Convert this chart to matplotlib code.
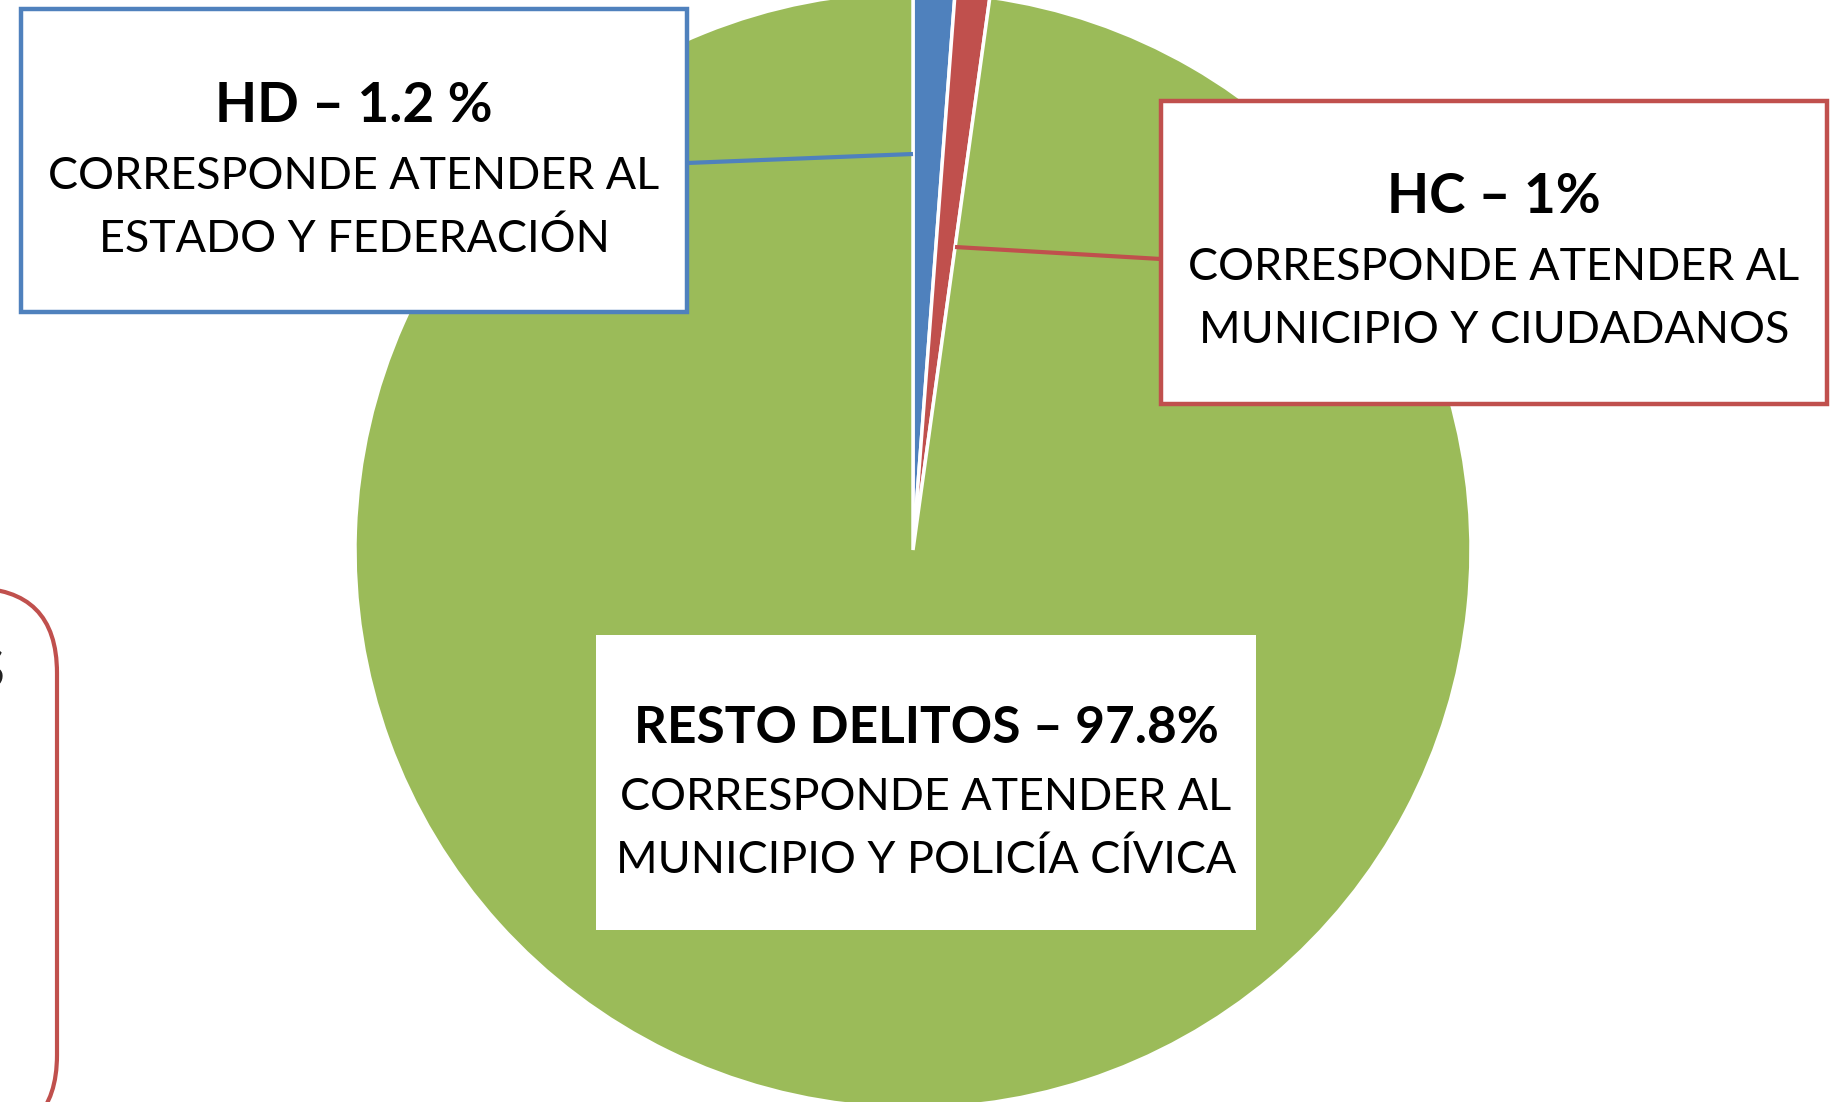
import matplotlib.pyplot as plt
from matplotlib.patches import Rectangle, FancyBboxPatch

plt.rcParams['font.family'] = ['Lato', 'DejaVu Sans']

# data
categories = ['HD', 'HC', 'RESTO DELITOS']
shares = [1.2, 1.0, 97.8]
share_labels = ['1.2 %', '1%', '97.8%']
notes = [['CORRESPONDE ATENDER AL', 'ESTADO Y FEDERACIÓN'],
         ['CORRESPONDE ATENDER AL', 'MUNICIPIO Y CIUDADANOS'],
         ['CORRESPONDE ATENDER AL', 'MUNICIPIO Y POLICÍA CÍVICA']]
colors = ['#4F81BD', '#C0504D', '#9BBB59']

W, H = 1830, 1102


def fy(y):
    # pixel rows counted from the top
    return H - y


fig = plt.figure(figsize=(W / 100, H / 100), dpi=100)
ax = fig.add_axes([0, 0, 1, 1])

ax.pie(shares, colors=colors, startangle=90, counterclock=False,
       center=(913, fy(550)), radius=558,
       wedgeprops=dict(edgecolor='white', linewidth=2.5))

ax.set_xlim(0, W)
ax.set_ylim(0, H)
ax.set_aspect('equal')
ax.axis('off')

# label boxes: (x0, y0, x1, y1) in top-down px, edge colour
boxes = [(21, 9, 687, 312, colors[0]),
         (1161, 101, 1827, 404, colors[1]),
         (596, 635, 1256, 930, None)]
centers_x = [354, 1494, 926]
title_base = [122, 213, 743]
title_size = [39.5, 39.5, 37]

# leader lines from boxes to slices
ax.plot([687, 913], [fy(163), fy(154)], color=colors[0], lw=3, solid_capstyle='butt')
ax.plot([1161, 955], [fy(259), fy(247)], color=colors[1], lw=3, solid_capstyle='butt')

for i, (x0, y0, x1, y1, ec) in enumerate(boxes):
    ax.add_patch(Rectangle((x0, fy(y1)), x1 - x0, y1 - y0, facecolor='white',
                           edgecolor=ec if ec else 'none', lw=3.2, zorder=3))
    cx = centers_x[i]
    b = title_base[i]
    ax.text(cx, fy(b), f'{categories[i]} – {share_labels[i]}', ha='center',
            va='baseline', fontsize=title_size[i], fontweight='bold', color='black', zorder=4)
    for j, line in enumerate(notes[i]):
        ax.text(cx, fy(b + 67 + 63 * j), line, ha='center', va='baseline',
                fontsize=32.3, color='black', zorder=4)

# partly visible rounded box at the left edge
ax.add_patch(FancyBboxPatch((-300, fy(1140)), 357, 1140 - 588,
                            boxstyle='round,pad=0,rounding_size=85',
                            facecolor='white', edgecolor=colors[1], lw=3, zorder=3))
ax.text(4, fy(688), 'S', ha='right', va='baseline', fontsize=40, color='#222222', zorder=4)

fig.savefig('out.png', dpi=100)
